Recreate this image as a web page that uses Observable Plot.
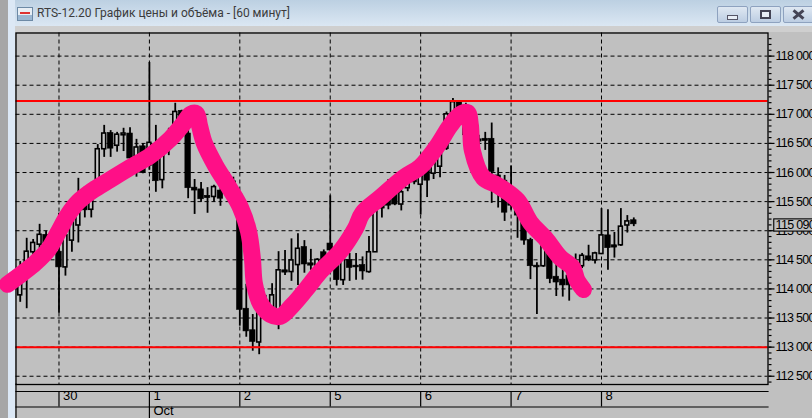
<!DOCTYPE html>
<html><head><meta charset="utf-8">
<script src="https://cdn.jsdelivr.net/npm/d3@7"></script>
<script src="https://cdn.jsdelivr.net/npm/@observablehq/plot@0.6"></script>
<style>
html,body{margin:0;padding:0;background:#c0c0c0;}
#win{position:relative;width:812px;height:418px;overflow:hidden;background:#c0c0c0;}
#bar{position:absolute;left:0;top:0;width:812px;height:26px;background:linear-gradient(#bcd0e2,#dbe7f3);}
#edgeA{position:absolute;left:0;top:0;width:8px;height:418px;background:#a6a6a6;}
#edgeB{position:absolute;left:8px;top:0;width:7px;height:418px;background:#dce8f5;}
#band{position:absolute;left:15px;top:26px;width:797px;height:6px;background:#cfcfcf;}
#title{position:absolute;left:37px;top:6px;font:12px Roboto,sans-serif;color:#3c3c3c;white-space:nowrap;}
#icon{position:absolute;left:17px;top:7px;width:14px;height:12px;border:1px solid #6d8aa6;background:linear-gradient(#e8eef4 0 55%,#9bb7d2 55%);}
#icon i{position:absolute;left:2px;top:4px;width:10px;height:2px;background:#d33;}
.btn{position:absolute;top:6px;height:17px;border:1px solid #8ea2bf;border-radius:2px;background:linear-gradient(#dfe8f2,#bccde2);box-sizing:border-box;}
.btn i{position:absolute;display:block;box-sizing:border-box;}
#chart{position:absolute;left:0;top:0;}
#chart svg{background:transparent;display:block;}
#chart text.price, #chart .price text{letter-spacing:-0.7px;}
</style></head><body>
<div id="win">
  <div id="bar"></div><div id="edgeA"></div><div id="edgeB"></div><div id="band"></div>
  <div id="icon"><i></i></div>
  <div id="title">RTS-12.20 График цены и объёма - [60 минут]</div>
  <div class="btn" style="left:717px;width:31px"><i style="left:9px;top:8px;width:11px;height:5px;background:#e8eef6;border:1px solid #556"></i></div>
  <div class="btn" style="left:750px;width:31px"><i style="left:9px;top:3px;width:11px;height:9px;border:2px solid #445;background:#e8eef6"></i></div>
  <div class="btn" style="left:783px;width:31px">
    <i style="left:8px;top:6px;width:13px;height:3px;background:#445;transform:rotate(40deg)"></i>
    <i style="left:8px;top:6px;width:13px;height:3px;background:#445;transform:rotate(-40deg)"></i>
  </div>
  <div id="chart"></div>
</div>
<script>
const firstBar = -6;
const opens = [113890,114280,114630,114760,114930,114870,114640,114370,114830,115090,115600,115360,115780,116400,116680,116460,116640,116670,116280,116450,116120,116290,115870,116640,116760,117060,116670,115740,115710,115600,115580,115690,115900,115850,115620,113660,113290,113080,113800,113680,113490,114320,114290,114410,114720,114440,114400,114630,114780,114450,114150,114500,114400,114410,114290,114630,115600,115690,115640,115450,115730,116000,115790,116040,115980,116100,116410,116720,117210,117150,116810,116570,116580,116580,115950,115860,115690,115430,115140,114840,114400,114390,114830,114210,114160,114230,114280,114390,114560,114490,114600,114920,114750,114750,115090,115180];
const closes = [114090,114640,114790,114930,114780,114660,114370,114920,115180,115430,115350,115600,116400,116670,116410,116650,116670,116240,116430,115990,116510,115850,116380,116410,117040,116720,115730,115690,115540,115560,115750,115550,115690,115670,113640,113270,113090,113700,113630,113890,114320,114280,114490,114690,114420,114400,114500,114450,114660,114150,114500,114360,114370,114300,114630,115350,115380,115430,115450,115660,115950,115830,116070,115860,116210,116410,117000,117210,117030,116640,116640,116530,116540,116010,115690,115310,115430,115260,114830,114390,114370,114780,114170,114110,114060,114060,114450,114570,114490,114610,114920,114700,114710,115070,115160,115110];
const highs = [114470,114870,114850,115110,114990,114900,115300,115090,115260,115900,115760,115830,116480,116810,116720,116690,116760,116770,116570,116500,117890,116810,116460,116760,117190,117070,116810,115880,115830,115740,115780,115900,115980,115920,115640,114080,113560,113800,113890,114090,114640,114660,114860,114950,114830,114680,114520,114670,115600,114570,114570,114610,114610,114550,114900,115430,115690,115880,115730,115730,116000,116070,116120,116210,116380,116550,117040,117270,117220,117190,116890,116640,116690,116850,116080,115950,116110,115520,115210,114870,114450,115000,114920,114570,114450,114350,114600,114610,114750,114630,115380,115360,114970,115380,115260,115220];
const lows = [113770,113660,114560,114690,114690,114630,113580,114220,114630,114790,115220,115220,115690,116260,116260,116350,116360,116210,115920,115980,116040,115660,115720,116290,116690,116640,115550,115280,115490,115300,115490,115420,115600,115600,113360,113170,112930,112870,113460,113600,113300,114230,114130,114060,114270,114320,114350,114350,114570,114050,114060,114130,114150,114150,114270,114630,115220,115360,115430,115340,115670,115790,115270,115570,115880,115910,116380,116640,116930,116550,116550,116380,116380,115470,115390,115160,115350,114870,114750,114160,113560,114370,114090,113870,113860,113790,114200,114350,114470,114430,114590,114320,114530,114730,114960,115070];

const dayBars = [0,14,28,42,56,70,84];
const dayLabels = ["30","1","2","5","6","7","8"];
const monthBars = [14];
const monthLabels = ["Oct"];
const redLevels = [117230,113000];
const gridPrices = [112500,113000,113500,114000,114500,115000,115500,116000,116500,117000,117500,118000];
const minorPrices = d3.range(112400,118400,100);
const lastPrice = 115090;

const strokeBars = [-7.97,-5.65,-3.64,-1.63,-0.08,1.32,3.02,5.19,7.97,11.07,14.16,17.26,19.27,20.36,21.28,21.75,22.52,24.23,26.24,28.1,29.33,29.95,30.26,31.19,32.74,34.29,36.15,38.16,40.48,43.58,45.9,46.98,49.77,53.33,55.96,58.6,60.6,62.15,63.24,63.7,64.0,65.7,67.9,71.0,73.0,75.3,77.6,79.5,80.2,81.2];
const strokePrices = [114080,114270,114450,114680,114980,115260,115500,115690,115880,116090,116290,116580,116840,117000,117010,116810,116500,116120,115760,115400,115000,114520,114090,113750,113560,113530,113720,113980,114300,114650,115040,115300,115570,115910,116100,116460,116810,117000,117030,116810,116380,115910,115780,115520,115140,114870,114540,114370,114150,113990];

const bars = opens.map((o,i)=>({i:firstBar+i,o,c:closes[i],h:highs[i],l:lows[i],top:Math.max(o,closes[i]),bot:Math.min(o,closes[i])}));
const up = bars.filter(b=>b.c>=b.o), down = bars.filter(b=>b.c<b.o);
const ink = "#000";
const dash = "4,3";
const labelFont = {fontFamily:'"Liberation Sans",Arial,sans-serif',fontSize:12.5,fill:ink,className:"price"};
const dateFont = {fontFamily:'"Liberation Sans",Arial,sans-serif',fontSize:13,fill:ink};
const fmt = d=>d3.format(",")(d).replace(",", " ");

const plot = Plot.plot({
  width:812,height:418,
  marginLeft:15.5,marginRight:44.5,marginTop:32.5,marginBottom:34,
  x:{type:"linear",domain:[-6.656,109.78],axis:null},
  y:{type:"linear",domain:[112358,118397],axis:null},
  style:{background:"transparent",overflow:"visible"},
  marks:[
    Plot.gridY(gridPrices,{stroke:ink,strokeOpacity:1,strokeWidth:1,strokeDasharray:dash}),
    Plot.gridX(dayBars,{stroke:ink,strokeOpacity:1,strokeWidth:1,strokeDasharray:dash}),
    Plot.axisY({anchor:"right",ticks:minorPrices,tickSize:3,tickFormat:()=>"",stroke:ink,strokeWidth:1.2}),
    Plot.axisY({anchor:"right",ticks:gridPrices,tickSize:6,tickPadding:1.5,tickFormat:fmt,stroke:ink,strokeWidth:1.2,...labelFont,label:null}),
    Plot.ruleX(bars,{x:"i",y1:"l",y2:"h",stroke:ink,strokeWidth:1.8}),
    Plot.rect(up,{x1:d=>d.i-0.3,x2:d=>d.i+0.3,y1:"bot",y2:"top",fill:"#c8c8c8",stroke:ink,strokeWidth:1.6}),
    Plot.rect(down,{x1:d=>d.i-0.43,x2:d=>d.i+0.43,y1:"bot",y2:"top",fill:ink,stroke:ink,strokeWidth:0.6}),
    Plot.ruleY(redLevels,{stroke:"#f00",strokeWidth:2}),
    Plot.frame({stroke:ink,strokeWidth:1.3}),
    Plot.frame({anchor:"top",stroke:ink,strokeWidth:1.2,insetTop:358.5}),
    Plot.frame({anchor:"bottom",stroke:ink,strokeWidth:1.2,insetBottom:-22.5}),
    Plot.ruleX(dayBars,{x:d=>d,stroke:ink,strokeWidth:1.2,insetTop:358.5,insetBottom:-22.5}),
    Plot.ruleX(monthBars,{x:d=>d,stroke:ink,strokeWidth:1.2,insetTop:373.5,insetBottom:-34}),
    Plot.ruleX([-6.656],{x:d=>d,stroke:ink,strokeWidth:1.2,insetTop:351,insetBottom:-34}),
    Plot.text(dayBars,{x:d=>d,text:(d,i)=>dayLabels[i],frameAnchor:"bottom",dy:15.5,dx:4,textAnchor:"start",...dateFont}),
    Plot.text(monthBars,{x:d=>d,text:(d,i)=>monthLabels[i],frameAnchor:"bottom",dy:30.5,dx:4,textAnchor:"start",...dateFont}),
    Plot.rect([lastPrice],{x1:110.75,x2:118,y1:d=>d-105,y2:d=>d+105,fill:"#c0c0c0",stroke:ink,strokeWidth:1.1}),
    Plot.text([lastPrice],{x:110.95,y:d=>d,text:fmt,textAnchor:"start",...labelFont}),
    Plot.line(strokeBars.map((b,i)=>({b,p:strokePrices[i]})),{x:"b",y:"p",stroke:"#ff0f87",strokeWidth:17,curve:"catmull-rom",strokeLinecap:"round",strokeLinejoin:"round"})
  ]
});
document.getElementById("chart").appendChild(plot);
</script>
</body></html>
